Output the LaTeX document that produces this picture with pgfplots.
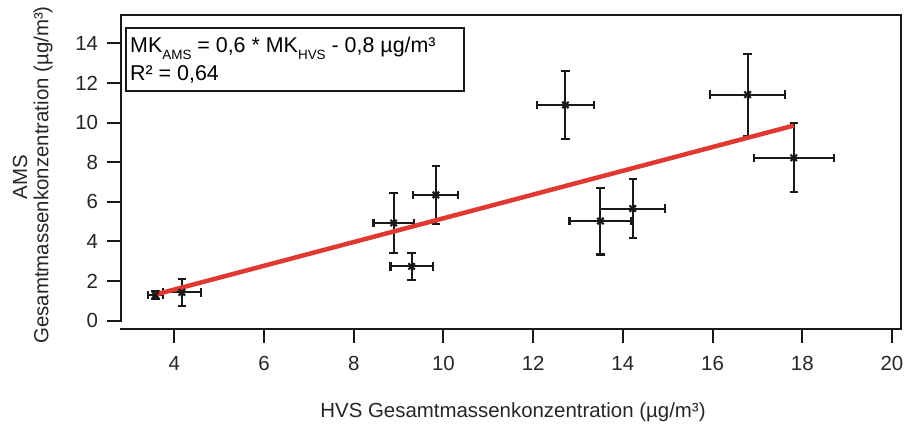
\documentclass[border=0pt]{standalone}
\usepackage{pgfplots}
\pgfplotsset{compat=1.18}
\usepackage{fontspec}
\setmainfont{Liberation Sans}
\definecolor{fitred}{RGB}{226,56,50}
\pgfplotstableread{
x y ex ey
3.58 1.30 0.17 0.19
4.17 1.43 0.42 0.69
8.89 4.93 0.45 1.53
9.29 2.74 0.47 0.69
9.83 6.35 0.50 1.47
12.72 10.89 0.64 1.72
13.50 5.03 0.69 1.69
14.22 5.66 0.72 1.50
16.78 11.41 0.84 2.07
17.81 8.22 0.89 1.74
}\datatable
\newcommand{\sub}[1]{\raisebox{-6.6bp}{\fontsize{13.5}{14}\selectfont #1}}
\begin{document}
\fontsize{20.5}{24}\selectfont
\begin{tikzpicture}[x=1bp,y=1bp]
\useasboundingbox (0,0) rectangle (905,425);
\begin{axis}[
  at={(121bp,96.3bp)}, anchor=south west,
  scale only axis, width=779.5bp, height=313.7bp,
  xmin=2.812, xmax=20.19, ymin=-0.404, ymax=15.43,
  axis line style={draw=none},
  xtick={4,6,...,20}, ytick={0,2,...,14},
  tick align=outside, xtick pos=bottom, ytick pos=left,
  major tick length=14bp,
  tick style={black!90, line width=2bp},
  minor tick num=0,
  /pgf/number format/assume math mode=true,
  tick label style={font=\fontsize{20.5}{24}\selectfont, text=black!85},
  xticklabel style={yshift=-7bp},
  yticklabel style={xshift=-2bp},
  clip=false,
]
\addplot[black!90, line width=2.1bp, only marks, mark=x, mark size=4.5bp,
  mark options={line width=2.2bp},
  error bars/.cd, x dir=both, x explicit, y dir=both, y explicit,
  error bar style={line width=2.1bp, black!90},
  error mark options={rotate=90, black!90, line width=2.1bp, mark size=4.2bp}]
  table[x=x, y=y, x error=ex, y error=ey]{\datatable};
\addplot[fitred, line width=4.5bp] coordinates {(3.58,1.32) (17.81,9.85)};
\draw[line width=2bp, black!90, line cap=rect]
  (axis cs:2.812,0) -- (rel axis cs:0,1) -- (rel axis cs:1,1) -- (rel axis cs:1,0) -- (rel axis cs:0,0);
\draw[line width=1.8bp, black!90, fill=white] (axis cs:2.917,11.61) rectangle (axis cs:10.458,14.79);
\node[anchor=base west, inner sep=0pt, font=\fontsize{21.5}{24}\selectfont] at (axis cs:3.013,13.53)
  {MK\sub{AMS} = 0,6 * MK\sub{HVS} - 0,8 µg/m³};
\node[anchor=base west, inner sep=0pt, font=\fontsize{21.5}{24}\selectfont] at (axis cs:3.013,12.12)
  {R² = 0,64};
\end{axis}
\node[text=black!85] at (513,13) {HVS Gesamtmassenkonzentration (µg/m³)};
\node[rotate=90, text=black!85] at (20,248) {AMS};
\node[rotate=90, text=black!85] at (43,250) {Gesamtmassenkonzentration (µg/m³)};
\end{tikzpicture}
\end{document}
